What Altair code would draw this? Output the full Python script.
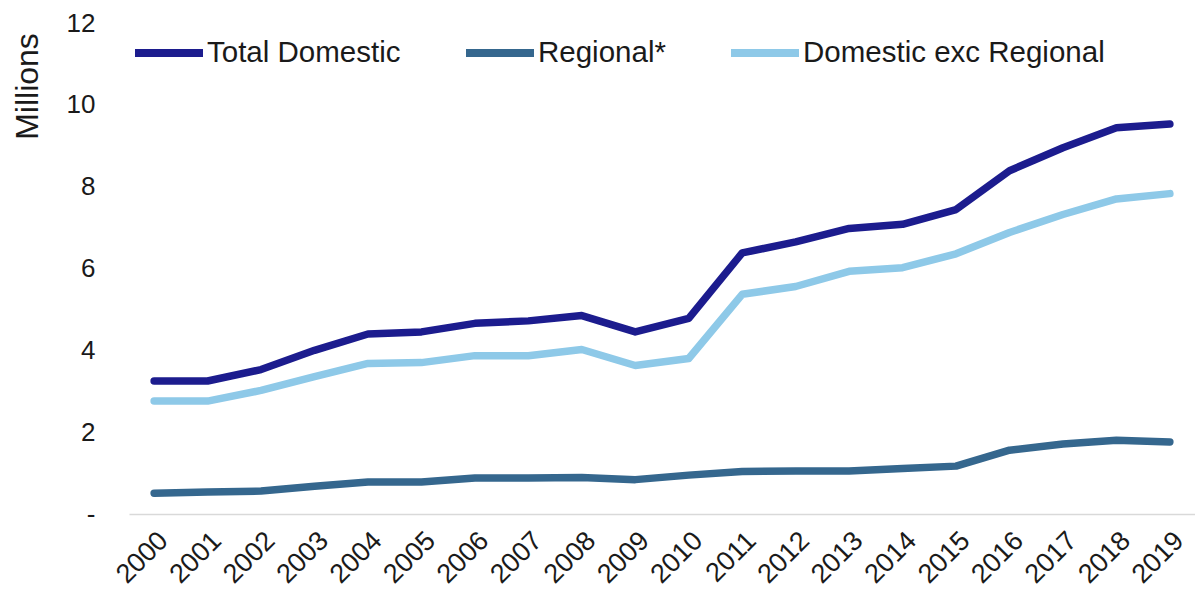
import altair as alt
import pandas as pd

years = [str(y) for y in range(2000, 2020)]
total_domestic = [3.25, 3.25, 3.53, 4.0, 4.4, 4.45, 4.66, 4.72, 4.85, 4.45, 4.78,
                  6.38, 6.65, 6.98, 7.08, 7.44, 8.39, 8.95, 9.44, 9.53]
regional = [0.51, 0.54, 0.56, 0.68, 0.78, 0.78, 0.88, 0.88, 0.89, 0.84, 0.95,
            1.04, 1.05, 1.05, 1.11, 1.17, 1.56, 1.71, 1.8, 1.76]
domestic_exc_regional = [2.76, 2.76, 3.02, 3.36, 3.68, 3.7, 3.87, 3.87, 4.02, 3.63, 3.8,
                         5.37, 5.56, 5.93, 6.02, 6.36, 6.88, 7.32, 7.7, 7.83]

series_names = ["Total Domestic", "Regional*", "Domestic exc Regional"]
series_colors = ["#1c1c8e", "#35678e", "#8ec9e8"]

rows = []
for name, vals in zip(series_names, [total_domestic, regional, domestic_exc_regional]):
    for i, (yr, v) in enumerate(zip(years, vals)):
        rows.append({"Year": yr, "Value": v, "Series": name, "order": series_names.index(name)})
df = pd.DataFrame(rows)

FONT = "Liberation Sans"

chart = alt.Chart(df).mark_line(strokeWidth=7.5, strokeJoin="round", strokeCap="round").encode(
    x=alt.X("Year:O", sort=years,
            scale=alt.Scale(type="point", padding=0.47),
            axis=alt.Axis(title=None, labelAngle=-45, ticks=False, domainColor="#d9d9d9",
                          domainWidth=1.5, labelFontSize=27, labelColor="#1a1a1a",
                          labelFont=FONT, labelPadding=13)),
    y=alt.Y("Value:Q", scale=alt.Scale(domain=[0, 12], nice=False),
            axis=alt.Axis(title="Millions", values=[0, 2, 4, 6, 8, 10, 12], grid=False,
                          domain=False, ticks=False, labelPadding=34,
                          labelExpr="datum.value == 0 ? '-' : datum.label",
                          labelFontSize=26, labelColor="#1a1a1a", labelFont=FONT,
                          titleFont=FONT, titleFontSize=32, titleFontWeight="normal",
                          titleColor="#1a1a1a", titleAngle=-90, titleAlign="center",
                          titleBaseline="middle", titleX=-102, titleY=63)),
    color=alt.Color("Series:N", sort=series_names,
                    scale=alt.Scale(domain=series_names, range=series_colors),
                    legend=alt.Legend(title=None, orient="none", legendX=2, legendY=-8,
                                      direction="horizontal", symbolType="stroke",
                                      symbolSize=4624, symbolStrokeWidth=8,
                                      labelFontSize=29.5, labelFont=FONT, labelColor="#1a1a1a",
                                      labelOffset=0, columnPadding=49, labelLimit=400)),
    order=alt.Order("order:Q"),
).properties(
    width=1066, height=491,
    background="white",
    autosize=alt.AutoSizeParams(type="none"),
    padding={"left": 129, "top": 23, "right": 0, "bottom": 85},
).configure_view(strokeWidth=0, stroke="transparent")

chart.save("out.html", embed_options={"renderer": "svg", "actions": False})
